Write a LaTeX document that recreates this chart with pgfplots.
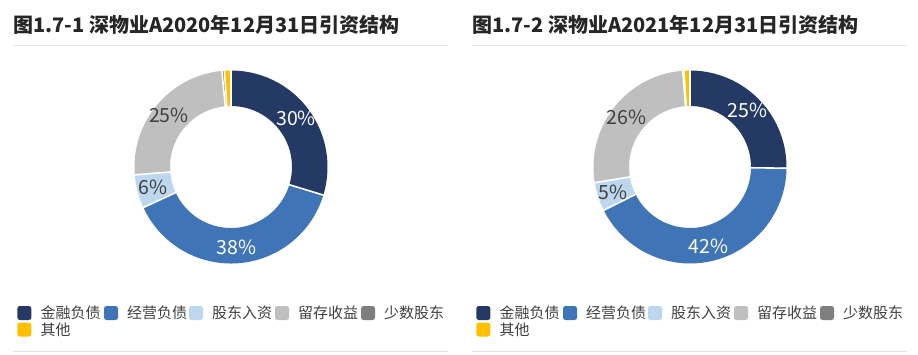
\documentclass[border=0pt]{standalone}
\usepackage{pgfplots}
\pgfplotsset{compat=1.18}
\usepackage{pgfplotstable}
\usepackage{fontspec}
\setmainfont{Noto Sans CJK SC}
\definecolor{cA}{HTML}{243A64}
\definecolor{cB}{HTML}{3F74B6}
\definecolor{cC}{HTML}{BDD7EE}
\definecolor{cD}{HTML}{BFBFBF}
\definecolor{cE}{HTML}{7F7F7F}
\definecolor{cF}{HTML}{FFC000}
\definecolor{lbl}{HTML}{404040}
\definecolor{titc}{HTML}{262626}
\definecolor{legc}{HTML}{404040}
\definecolor{linec}{HTML}{E4E4E4}
\newcommand\pctfont{\fontsize{19.5pt}{19.5pt}\selectfont}
\newcommand\titlefont{\fontsize{20pt}{20pt}\selectfont\bfseries}
\newcommand\legfont{\fontsize{15pt}{15pt}\selectfont}

% 2020-12-31 structure (percent)
\pgfplotstableread{
v col tc
29.7 cA white
38.4 cB white
5.6 cC lbl
24.8 cD lbl
0.4 cE lbl
1.1 cF lbl
}\dataA
% 2021-12-31 structure (percent)
\pgfplotstableread{
v col tc
25.2 cA white
42.4 cB white
4.8 cC lbl
26.4 cD lbl
0.2 cE lbl
1.0 cF lbl
}\dataB

\newcommand\drawdonut[3]{%
  % slices
  \def\cum{0}%
  \pgfplotsforeachungrouped \i in {0,...,5}{%
    \pgfplotstablegetelem{\i}{v}\of{#3}\let\dv\pgfplotsretval
    \pgfplotstablegetelem{\i}{col}\of{#3}\let\dcol\pgfplotsretval
    \pgfmathsetmacro\aS{90-3.6*\cum}%
    \pgfmathsetmacro\aE{90-3.6*(\cum+\dv)}%
    \pgfmathsetmacro\cum{\cum+\dv}%
    \edef\tmp{\noexpand\draw[\dcol, line width=35.5pt] (axis cs:#1,#2) ++(\aS:78.75pt) arc[start angle=\aS, end angle=\aE, radius=78.75pt];}%
    \tmp
  }%
  % separators
  \def\cum{0}%
  \pgfplotsforeachungrouped \i in {0,...,5}{%
    \pgfplotstablegetelem{\i}{v}\of{#3}\let\dv\pgfplotsretval
    \pgfmathsetmacro\aS{90-3.6*\cum}%
    \pgfmathsetmacro\cum{\cum+\dv}%
    \edef\tmp{\noexpand\draw[white, line width=1.6pt] (axis cs:#1,#2) ++(\aS:59pt) -- ++(\aS:40pt);}%
    \tmp
  }%
  % labels
  \def\cum{0}%
  \pgfplotsforeachungrouped \i in {0,...,5}{%
    \pgfplotstablegetelem{\i}{v}\of{#3}\let\dv\pgfplotsretval
    \pgfplotstablegetelem{\i}{tc}\of{#3}\let\dtc\pgfplotsretval
    \pgfmathsetmacro\aM{90-3.6*(\cum+\dv/2)}%
    \pgfmathsetmacro\cum{\cum+\dv}%
    \pgfmathtruncatemacro\lab{round(\dv)}%
    \ifdim\dv pt>3pt
      \edef\tmp{\noexpand\path (axis cs:#1,#2) ++(\aM:81pt) node[text=\dtc, inner sep=0pt, font=\noexpand\pctfont] {\lab\noexpand\%};}%
      \tmp
    \fi
  }%
}

\newcommand\legitem[4]{%
  \fill[#3, rounded corners=2.5pt] (#1pt,#2pt-7pt) rectangle ++(14pt,14pt);
  \node[anchor=base west, inner sep=0pt, font=\legfont, text=legc] at (#1pt+23pt,#2pt-5.6pt) {#4};
}
\newcommand\legendblock[1]{%
  \legitem{#1+17.3}{41}{cA}{金融负债}
  \legitem{#1+104}{41}{cB}{经营负债}
  \legitem{#1+189}{41}{cC}{股东入资}
  \legitem{#1+275}{41}{cD}{留存收益}
  \legitem{#1+361}{41}{cE}{少数股东}
  \legitem{#1+17.3}{24.5}{cF}{其他}
}

\begin{document}
\begin{tikzpicture}
\useasboundingbox (0,0) rectangle (918pt,354pt);
\fill[white] (0,0) rectangle (918pt,354pt);
\begin{axis}[at={(0pt,0pt)}, anchor=south west, scale only axis,
  width=918pt, height=354pt, xmin=0, xmax=918, ymin=0, ymax=354,
  hide axis, clip=false]
\drawdonut{231}{187}{\dataA}
\drawdonut{690}{187}{\dataB}
\end{axis}
% titles
\node[anchor=base west, inner sep=0pt, font=\titlefont, text=titc] at (13pt,321.4pt) {图1.7-1 深物业A2020年12月31日引资结构};
\node[anchor=base west, inner sep=0pt, font=\titlefont, text=titc] at (472pt,321.4pt) {图1.7-2 深物业A2021年12月31日引资结构};
\draw[linec, line width=1.4pt] (13pt,308.5pt) -- (448pt,308.5pt);
\draw[linec, line width=1.4pt] (472pt,308.5pt) -- (907pt,308.5pt);
\draw[linec, line width=1.4pt] (13pt,2.5pt) -- (448pt,2.5pt);
\draw[linec, line width=1.4pt] (472pt,2.5pt) -- (907pt,2.5pt);
% legends
\legendblock{0}
\legendblock{459}
\end{tikzpicture}
\end{document}
